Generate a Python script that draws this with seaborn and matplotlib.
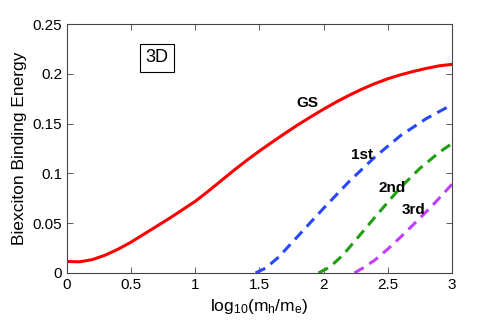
import numpy as np
import pandas as pd
import matplotlib
matplotlib.use('Agg')
import matplotlib.pyplot as plt
import seaborn as sns

# curves: log10(mh/me) vs biexciton binding energy
gs_x = [0, 0.1, 0.2, 0.3, 0.4, 0.5, 0.6, 0.7, 0.8, 0.9, 1.0, 1.1, 1.2, 1.3, 1.4,
        1.5, 1.6, 1.7, 1.8, 1.9, 2.0, 2.1, 2.2, 2.3, 2.4, 2.5, 2.6, 2.7, 2.8, 2.9, 3.0]
gs_y = [0.0115, 0.0112, 0.0135, 0.018, 0.024, 0.031, 0.039, 0.047, 0.055, 0.0635,
        0.072, 0.082, 0.0925, 0.103, 0.113, 0.1225, 0.1315, 0.1403, 0.1488, 0.1568,
        0.1645, 0.1718, 0.1785, 0.1847, 0.1902, 0.195, 0.199, 0.2024, 0.2054, 0.208, 0.2095]

first_x = [1.47, 1.55, 1.65, 1.75, 1.9, 2.0, 2.2, 2.4, 2.6, 2.8, 3.0]
first_y = [0.0, 0.005, 0.016, 0.030, 0.051, 0.065, 0.092, 0.1165, 0.138, 0.155, 0.169]

second_x = [1.96, 2.05, 2.15, 2.25, 2.4, 2.5, 2.6, 2.75, 2.9, 3.0]
second_y = [0.0, 0.006, 0.018, 0.033, 0.056, 0.071, 0.086, 0.105, 0.121, 0.130]

third_x = [2.24, 2.32, 2.4, 2.5, 2.6, 2.75, 2.85, 3.0]
third_y = [0.0, 0.006, 0.013, 0.024, 0.036, 0.055, 0.068, 0.089]

labels = ['GS', '1st', '2nd', '3rd']
label_x = [1.87, 2.30, 2.53, 2.70]
label_y = [0.171, 0.1185, 0.085, 0.063]

sns.set_style('ticks')
plt.rcParams['font.family'] = ['Liberation Sans', 'DejaVu Sans']
plt.rcParams['mathtext.default'] = 'regular'
plt.rcParams['xtick.direction'] = 'in'
plt.rcParams['ytick.direction'] = 'in'
plt.rcParams['text.color'] = 'black'
plt.rcParams['axes.labelcolor'] = 'black'

fig = plt.figure(figsize=(4.98, 3.2), dpi=100)
ax = fig.add_axes([0.1345, 0.147, 0.773, 0.778])

sns.lineplot(x=gs_x, y=gs_y, ax=ax, color='#ff0000', linewidth=2.2)
sns.lineplot(x=first_x, y=first_y, ax=ax, color='#2848ff', linewidth=2.2)
sns.lineplot(x=second_x, y=second_y, ax=ax, color='#20a010', linewidth=2.2)
sns.lineplot(x=third_x, y=third_y, ax=ax, color='#c040ff', linewidth=2.2)
for ln in ax.lines[1:]:
    ln.set_dashes([3.5, 2.2])

for t, x, y in zip(labels, label_x, label_y):
    ax.text(x, y, t, fontsize=11, fontweight='bold', color='black', ha='center', va='center')

ax.text(0.70, 0.216, '3D', fontsize=13, color='black', ha='center', va='center',
        bbox=dict(boxstyle='square,pad=0.3', fc='white', ec='black', lw=0.8))

ax.set_xlim(0, 3)
ax.set_ylim(0, 0.25)
ax.set_xticks([0, 0.5, 1, 1.5, 2, 2.5, 3])
ax.set_xticklabels(['0', '0.5', '1', '1.5', '2', '2.5', '3'])
ax.set_yticks([0, 0.05, 0.1, 0.15, 0.2, 0.25])
ax.set_yticklabels(['0', '0.05', '0.1', '0.15', '0.2', '0.25'])
ax.tick_params(top=True, right=True, labelsize=11, length=4, width=0.6,
               color='#444444', labelcolor='black')
for s in ax.spines.values():
    s.set_visible(True)
    s.set_linewidth(0.8)
    s.set_color('#444444')

ax.set_xlabel('log$_{10}$(m$_h$/m$_e$)', fontsize=12.5)
ax.set_ylabel('Biexciton Binding Energy', fontsize=12.5)

fig.savefig('out.png', dpi=100)
